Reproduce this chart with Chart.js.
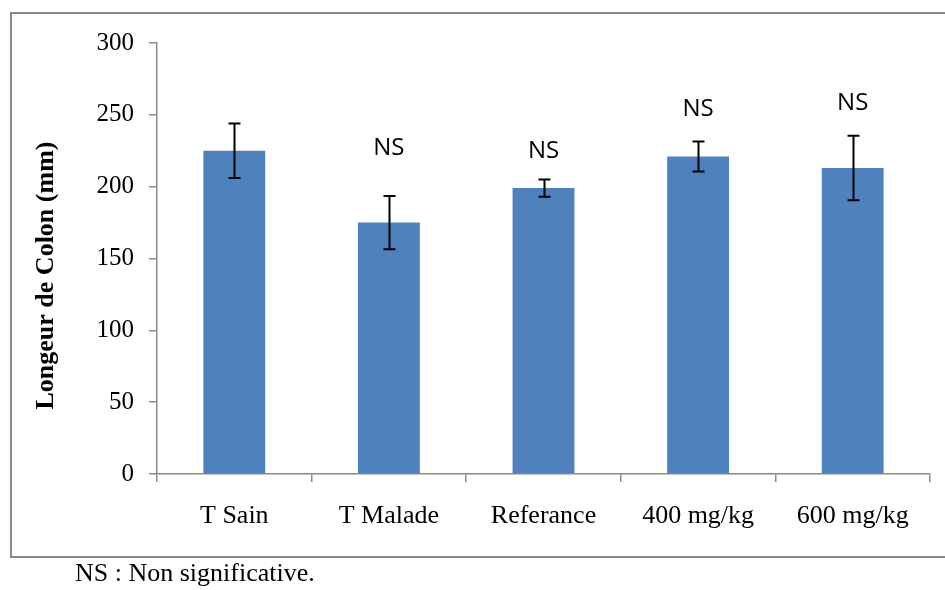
<!DOCTYPE html>
<html>
<head>
<meta charset="utf-8">
<script src="https://cdn.jsdelivr.net/npm/chart.js@4.4.0/dist/chart.umd.min.js"></script>
<style>
  html, body { margin: 0; padding: 0; background: #fff; }
  #wrap { position: relative; width: 945px; height: 590px; overflow: hidden; }
  #frame {
    position: absolute; left: 10px; top: 12px; width: 945px; height: 546px;
    border-left: 2px solid #8a8a8a; border-top: 2px solid #8a8a8a; border-bottom: 2px solid #8a8a8a;
    box-sizing: border-box;
  }
  #note {
    position: absolute; left: 75px; top: 558px;
    font-family: "Liberation Serif", "Times New Roman", serif; font-size: 26px; color: #000;
    white-space: nowrap;
  }
  canvas { position: absolute; left: 0; top: 0; }
</style>
</head>
<body>
<div id="wrap">
  <div id="frame"></div>
  <canvas id="chart" width="945" height="590"></canvas>
  <div id="note">NS : Non significative.</div>
</div>
<script>
const categories = ['T Sain', 'T Malade', 'Referance', '400 mg/kg', '600 mg/kg'];
const colonLength = [225, 175, 199, 221, 213];
const errorBars = [19, 18.5, 6, 10.5, 22.5];
const nsLabels = ['', 'NS', 'NS', 'NS', 'NS'];
const nsLabelAt = [0, 227, 225, 254, 258];
const yTicks = [0, 50, 100, 150, 200, 250, 300];
const yTitle = 'Longeur de Colon (mm)';

const serif = '"Liberation Serif", "Times New Roman", serif';

// error bars, NS labels and the y title (sits a bit below centre, like the original)
const extrasPlugin = {
  id: 'extras',
  afterDatasetsDraw(chart) {
    const ctx = chart.ctx;
    const y = chart.scales.y;
    const meta = chart.getDatasetMeta(0);
    ctx.save();
    ctx.strokeStyle = '#000';
    ctx.lineWidth = 2;
    meta.data.forEach((bar, i) => {
      const top = y.getPixelForValue(colonLength[i] + errorBars[i]);
      const bot = y.getPixelForValue(colonLength[i] - errorBars[i]);
      const x = Math.round(bar.x) + 0.5;
      ctx.beginPath();
      ctx.moveTo(x, top); ctx.lineTo(x, bot);
      ctx.moveTo(x - 6, top); ctx.lineTo(x + 6, top);
      ctx.moveTo(x - 6, bot); ctx.lineTo(x + 6, bot);
      ctx.stroke();
    });
    ctx.fillStyle = '#000';
    ctx.font = '24px "Open Sans", "Noto Sans", sans-serif';
    ctx.textAlign = 'center';
    ctx.textBaseline = 'middle';
    meta.data.forEach((bar, i) => {
      if (nsLabels[i]) ctx.fillText(nsLabels[i], bar.x, y.getPixelForValue(nsLabelAt[i]));
    });

    ctx.translate(46, (y.top + y.bottom) / 2 + 17);
    ctx.rotate(-Math.PI / 2);
    ctx.font = 'bold 26px ' + serif;
    ctx.fillText(yTitle, 0, 0);
    ctx.restore();
  }
};

new Chart(document.getElementById('chart'), {
  type: 'bar',
  data: {
    labels: categories,
    datasets: [{
      data: colonLength,
      backgroundColor: '#4F81BD',
      borderWidth: 0,
      categoryPercentage: 0.4,
      barPercentage: 1.0
    }]
  },
  options: {
    responsive: false,
    animation: false,
    layout: { padding: { left: 62, right: 15, top: 43, bottom: 40 } },
    plugins: { legend: { display: false }, tooltip: { enabled: false } },
    scales: {
      x: {
        grid: {
          offset: true,
          drawOnChartArea: false,
          drawTicks: true,
          tickLength: 8,
          color: '#8a8a8a',
          lineWidth: 1.5
        },
        border: { color: '#8a8a8a', width: 1.5 },
        ticks: { color: '#000', font: { family: serif, size: 26 }, padding: 19, maxRotation: 0 },
        afterFit(scale) { scale.height = 76; }
      },
      y: {
        min: 0,
        max: 300,
        afterBuildTicks(scale) { scale.ticks = yTicks.map(v => ({ value: v })); },
        grid: {
          drawOnChartArea: false,
          drawTicks: true,
          tickLength: 8,
          color: '#8a8a8a',
          lineWidth: 1.5
        },
        border: { color: '#8a8a8a', width: 1.5 },
        ticks: { color: '#000', font: { family: serif, size: 25 }, padding: 15 },
        afterFit(scale) { scale.width = 95; }
      }
    }
  },
  plugins: [extrasPlugin]
});
</script>
</body>
</html>
